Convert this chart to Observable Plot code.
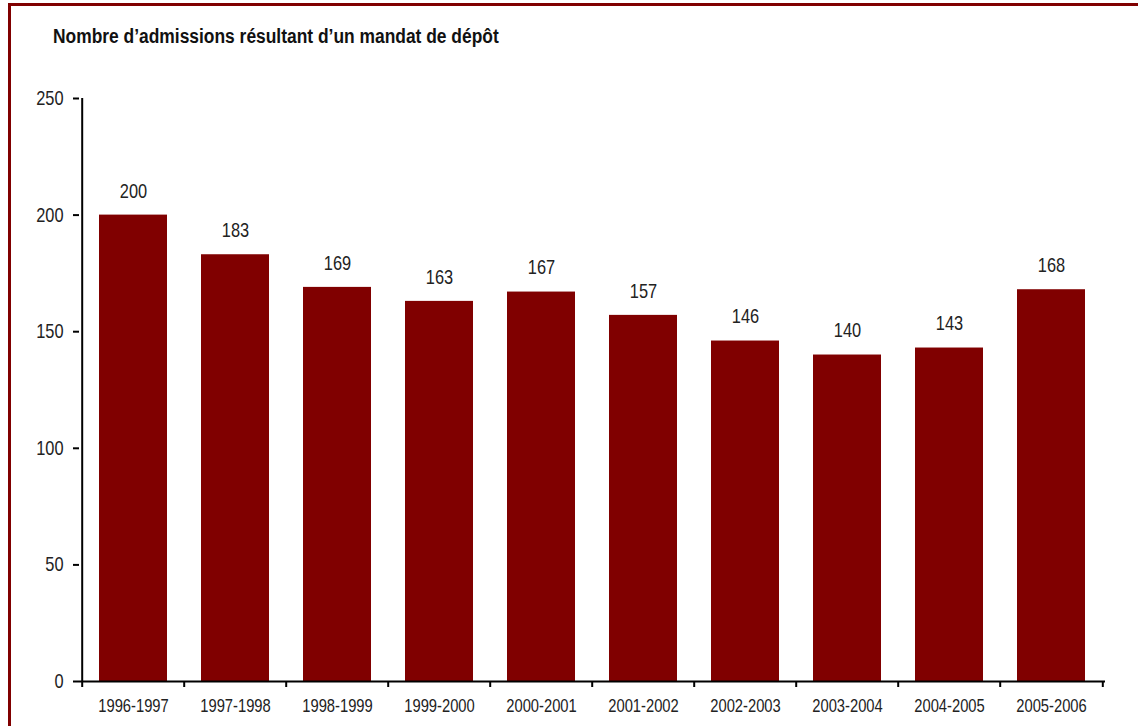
<!DOCTYPE html>
<html>
<head>
<meta charset="utf-8">
<script src="https://cdn.jsdelivr.net/npm/d3@7"></script>
<script src="https://cdn.jsdelivr.net/npm/@observablehq/plot@0.6"></script>
<style>
  html, body { margin: 0; padding: 0; background: #fff; }
  #wrap { position: relative; width: 1138px; height: 726px; overflow: hidden; background: #fff; }
  #border { position: absolute; left: 8px; top: 3px; width: 1200px; height: 800px;
            border-left: 3px solid #800000; border-top: 3px solid #800000; box-sizing: border-box; }
  #title { position: absolute; left: 53px; top: 25px; font-family: "Liberation Sans", Arial, sans-serif;
           font-weight: bold; font-size: 20px; line-height: normal; color: #111; white-space: nowrap;
           transform: scaleX(0.87); transform-origin: 0 50%; }
  #chart { position: absolute; left: 0; top: 0; }
</style>
</head>
<body>
<div id="wrap">
  <div id="border"></div>
  <div id="chart"></div>
  <div id="title">Nombre d’admissions résultant d’un mandat de dépôt</div>
</div>
<script>
const periods = ["1996-1997","1997-1998","1998-1999","1999-2000","2000-2001","2001-2002","2002-2003","2003-2004","2004-2005","2005-2006"];
const admissions = [200, 183, 169, 163, 167, 157, 146, 140, 143, 168];
const yTicks = [0, 50, 100, 150, 200, 250];

const data = periods.map((p, i) => ({period: p, value: admissions[i]}));

const W = 1138, H = 726, ML = 79, MR = 33, MT = 98, MB = 45;
const step = (W - ML - MR) / periods.length;
const pxPerUnit = (H - MT - MB) / 250;
const tickLen = 6 / pxPerUnit;
const font = "'Liberation Sans', Arial, sans-serif";

const plot = Plot.plot({
  width: W, height: H,
  marginLeft: ML, marginRight: MR, marginTop: MT, marginBottom: MB,
  style: {fontFamily: font, background: "transparent"},
  x: {domain: periods, paddingInner: 0.33, paddingOuter: 0.165, label: null},
  y: {domain: [0, 250], label: null},
  marks: [
    Plot.barY(data, {x: "period", y: "value", fill: "#800000"}),
    Plot.text(data, {x: "period", y: "value", text: d => String(d.value), dy: -24, fontSize: 20, fill: "#222"}),
    Plot.ruleY([0], {stroke: "#000", strokeWidth: 2}),
    Plot.ruleX([periods[0]], {dx: -step / 2, y1: 0, y2: 250, stroke: "#000", strokeWidth: 2}),
    Plot.ruleX(periods, {x: d => d, dx: -step / 2, y1: 0, y2: -tickLen, stroke: "#000", strokeWidth: 2}),
    Plot.ruleX([periods[periods.length - 1]], {dx: step / 2, y1: 0, y2: -tickLen, stroke: "#000", strokeWidth: 2}),
    Plot.axisY({ticks: yTicks, tickSize: 6, tickPadding: 10, fontSize: 20, label: null, stroke: "#000", strokeWidth: 2, fill: "#222"}),
    Plot.axisX({tickSize: 0, tickPadding: 18, fontSize: 18, label: null, fill: "#222"})
  ]
});
// emulate a narrow typeface: compress each label horizontally around its anchor
d3.select(plot).selectAll("text").each(function() {
  const t = this.getAttribute("transform") || "";
  this.setAttribute("transform", t + " scale(0.82,1)");
});
document.getElementById("chart").appendChild(plot);
</script>
</body>
</html>
